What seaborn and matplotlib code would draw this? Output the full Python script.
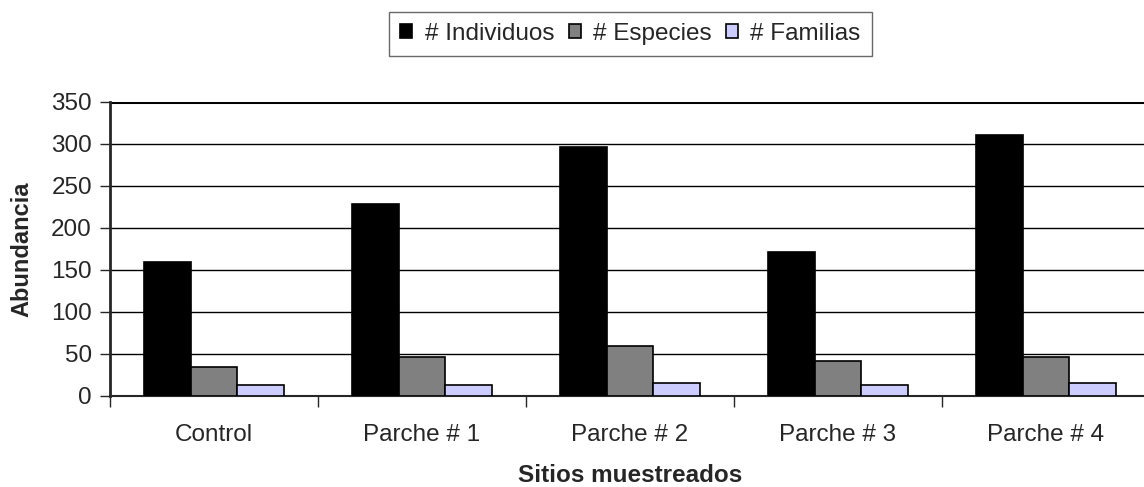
import matplotlib
matplotlib.use("Agg")
import matplotlib.pyplot as plt
import seaborn as sns
import pandas as pd

sitios = ["Control", "Parche # 1", "Parche # 2", "Parche # 3", "Parche # 4"]
individuos = [160, 228, 297, 172, 311]
especies = [35, 47, 59, 42, 47]
familias = [13, 13, 16, 13, 16]
series = ["# Individuos", "# Especies", "# Familias"]
colores = ["#000000", "#808080", "#CCCCFF"]

df = pd.DataFrame({
    "sitio": sitios * 3,
    "serie": [series[0]] * 5 + [series[1]] * 5 + [series[2]] * 5,
    "valor": individuos + especies + familias,
})

sns.set_style("white")
plt.rcParams["font.family"] = ["Liberation Sans", "DejaVu Sans"]

fig = plt.figure(figsize=(11.44, 4.87), dpi=100)
ax = fig.add_axes([110 / 1144, 1 - 396 / 487, 1040 / 1144, (396 - 102) / 487])

sns.barplot(data=df, x="sitio", y="valor", hue="serie", palette=colores,
            width=0.67, edgecolor="black", linewidth=1.2, saturation=1,
            ax=ax, zorder=3)

ax.set_ylim(0, 350)
ax.set_xlim(-0.5, 4.5)
ax.set_yticks(range(0, 351, 50))
ax.yaxis.grid(True, color="black", linewidth=1)
ax.set_axisbelow(True)
for s in ["top", "right"]:
    ax.spines[s].set_visible(False)
ax.spines["left"].set_linewidth(2)
ax.spines["bottom"].set_linewidth(1.5)
ax.axhline(350, color="black", linewidth=2.2, zorder=1)

ax.tick_params(axis="y", direction="out", length=7, width=1, labelsize=17.5, pad=6, left=True)
ax.set_xticks([-0.5, 0.5, 1.5, 2.5, 3.5, 4.5], minor=True)
ax.tick_params(axis="x", which="major", length=0, labelsize=17.5, pad=20)
ax.tick_params(axis="x", which="minor", direction="out", length=8, width=1, bottom=True)

ax.set_xlabel("Sitios muestreados", fontsize=17.5, fontweight="bold", labelpad=13)
ax.set_ylabel("Abundancia", fontsize=17, fontweight="bold", labelpad=13)

ax.legend(loc="upper center", bbox_to_anchor=(630.5 / 1144, 1 - 12 / 487),
          bbox_transform=fig.transFigure,
          ncol=3, fontsize=17.5, frameon=True, fancybox=False, edgecolor="#444444",
          handlelength=0.5, handleheight=0.5, handletextpad=0.5, columnspacing=0.6,
          borderpad=0.45, borderaxespad=0)

fig.savefig("out.png", dpi=100)
